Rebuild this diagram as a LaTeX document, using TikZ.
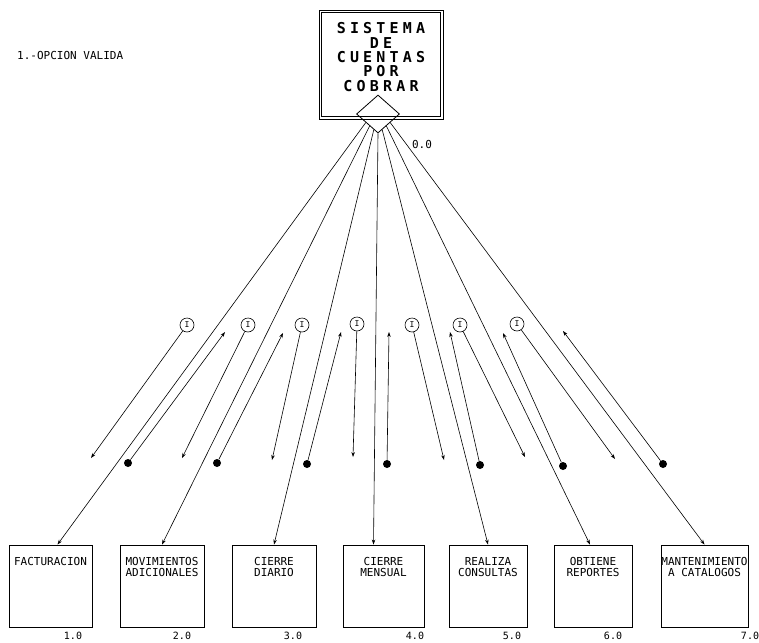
\documentclass[tikz,border=0pt]{standalone}
\usepackage{fontspec}
\setmonofont{DejaVu Sans Mono}
\usetikzlibrary{arrows.meta,positioning,shapes.geometric}

\begin{document}
\begin{tikzpicture}[
  x=1pt, y=-1pt,
  mainbox/.style={draw, line width=0.9pt, minimum width=124pt, minimum height=109pt, inner sep=0pt},
  maintext/.style={font=\ttfamily\bfseries\fontsize{15}{14.3}\selectfont\addfontfeature{LetterSpace=28}, align=center, inner sep=0pt},
  proc/.style={draw, line width=0.9pt, minimum width=#1, minimum height=82pt, inner sep=0pt},
  proctext/.style={font=\ttfamily\fontsize{11}{11}\selectfont, align=center, inner sep=0pt, anchor=north, yshift=-13pt},
  num/.style={font=\ttfamily\fontsize{10}{10}\selectfont, inner sep=0pt},
  ctrl/.style={circle, draw, line width=0.6pt, minimum size=14pt, inner sep=0pt, font=\ttfamily\fontsize{8}{8}\selectfont},
  dato/.style={circle, fill, minimum size=8pt, inner sep=0pt},
  link/.style={-{Stealth[length=5pt, width=3.5pt]}, line width=0.6pt},
  flag/.style={-{Stealth[length=5pt, width=3.5pt]}, line width=0.6pt}
]
\useasboundingbox (0,0) rectangle (759,642);

\node[font=\ttfamily\fontsize{11}{11}\selectfont, anchor=west, inner sep=0pt] (opcion) at (17,55) {1.-OPCION VALIDA};

\node[mainbox, label={[maintext, yshift=7.5pt]center:{SISTEMA\\DE\\CUENTAS\\POR\\COBRAR}}] (cxc) at (381,64.5) {};
\draw[line width=0.9pt] ([xshift=3pt, yshift=-3pt]cxc.north west) rectangle ([xshift=-3pt, yshift=3pt]cxc.south east);
\node[diamond, draw, line width=0.8pt, minimum width=43pt, minimum height=38pt, inner sep=0pt] (dia) at (378,114) {};
\node[num, font=\ttfamily\fontsize{11}{11}\selectfont] (n0) at (422,144) {0.0};

\node[proc=83pt, label={[proctext]north:FACTURACION}] (fac) at (50.5,586) {};
\node[proc=84pt, label={[proctext]north:{MOVIMIENTOS\\ADICIONALES}}] (mov) at (162,586) {};
\node[proc=84pt, label={[proctext]north:{CIERRE\\DIARIO}}] (dia-c) at (274,586) {};
\node[proc=81pt, label={[proctext]north:{CIERRE\\MENSUAL}}] (men) at (383.5,586) {};
\node[proc=78pt, label={[proctext]north:{REALIZA\\CONSULTAS}}] (con) at (488,586) {};
\node[proc=78pt, label={[proctext]north:{OBTIENE\\REPORTES}}] (rep) at (593,586) {};
\node[proc=87pt, label={[proctext]north:{MANTENIMIENTO\\A CATALOGOS}}] (cat) at (704.5,586) {};

\node[num] (n1) at (73,636) {1.0};
\node[num] (n2) at (182,636) {2.0};
\node[num] (n3) at (293,636) {3.0};
\node[num] (n4) at (415,636) {4.0};
\node[num] (n5) at (512,636) {5.0};
\node[num] (n6) at (613,636) {6.0};
\node[num] (n7) at (750,636) {7.0};

\draw[link] (dia.215) -- ([xshift=7pt]fac.north);
\draw[link] (dia.235) -- (mov.north);
\draw[link] (dia.255) -- (dia-c.north);
\draw[link] (dia.south) -- ([xshift=-10pt]men.north);
\draw[link] (dia.285) -- (con.north);
\draw[link] (dia.305) -- ([xshift=-3pt]rep.north);
\draw[link] (dia.325) -- (cat.north);

\node[ctrl] (c1) at (187,325) {I};
\node[ctrl] (c2) at (248,325) {I};
\node[ctrl] (c3) at (302,325) {I};
\node[ctrl] (c4) at (357,324) {I};
\node[ctrl] (c5) at (412,325) {I};
\node[ctrl] (c6) at (460,325) {I};
\node[ctrl] (c7) at (517,324) {I};

\coordinate (c1e) at (91,458);
\coordinate (c2e) at (182,458);
\coordinate (c3e) at (272,460);
\coordinate (c4e) at (353,457);
\coordinate (c5e) at (444,460);
\coordinate (c6e) at (525,457);
\coordinate (c7e) at (615,459);

\draw[flag] (c1) -- (c1e);
\draw[flag] (c2) -- (c2e);
\draw[flag] (c3) -- (c3e);
\draw[flag] (c4) -- (c4e);
\draw[flag] (c5) -- (c5e);
\draw[flag] (c6) -- (c6e);
\draw[flag] (c7) -- (c7e);

\node[dato] (d1) at (128,463) {};
\node[dato] (d2) at (217,463) {};
\node[dato] (d3) at (307,464) {};
\node[dato] (d4) at (387,464) {};
\node[dato] (d5) at (480,465) {};
\node[dato] (d6) at (563,466) {};
\node[dato] (d7) at (663,464) {};

\coordinate (d1e) at (225,332);
\coordinate (d2e) at (283,333);
\coordinate (d3e) at (341,332);
\coordinate (d4e) at (389,332);
\coordinate (d5e) at (450,332);
\coordinate (d6e) at (503,333);
\coordinate (d7e) at (563,331);

\draw[flag] (d1) -- (d1e);
\draw[flag] (d2) -- (d2e);
\draw[flag] (d3) -- (d3e);
\draw[flag] (d4) -- (d4e);
\draw[flag] (d5) -- (d5e);
\draw[flag] (d6) -- (d6e);
\draw[flag] (d7) -- (d7e);
\end{tikzpicture}
\end{document}
